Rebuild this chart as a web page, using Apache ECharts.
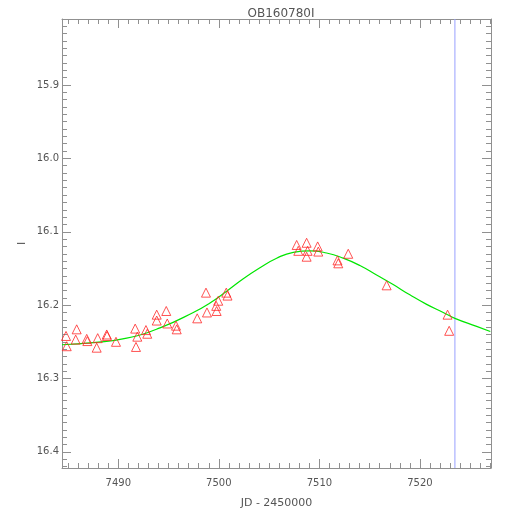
<!DOCTYPE html>
<html>
<head>
<meta charset="utf-8">
<script src="https://cdn.jsdelivr.net/npm/echarts@6/dist/echarts.min.js"></script>
<style>html,body{margin:0;padding:0;background:#fff}#c{width:510px;height:510px}</style>
</head>
<body>
<div id="c"></div>
<script>
const titleText = 'OB160780I';
const xName = 'JD - 2450000';
const yName = 'I';

// observed photometry (JD - 2450000, I mag)
const obsJD  = [7484.80,7484.87,7485.86,7485.76,7486.86,7486.92,7487.85,7487.95,7488.85,7488.88,
                7489.77,7491.68,7491.89,7491.76,7492.75,7492.88,7493.82,7493.82,7494.77,7494.87,
                7495.74,7495.81,7497.85,7498.72,7498.82,7499.74,7499.78,7499.94,7500.74,7500.86,
                7507.74,7507.90,7508.73,7508.83,7508.73,7509.83,7509.89,7511.80,7511.88,7512.87,
                7516.69,7522.75,7522.91];
const obsMag = [16.242,16.256,16.233,16.247,16.246,16.249,16.258,16.245,16.240,16.242,
                16.250,16.232,16.243,16.257,16.234,16.239,16.213,16.221,16.208,16.225,
                16.228,16.233,16.218,16.183,16.210,16.201,16.208,16.194,16.183,16.187,
                16.118,16.126,16.115,16.126,16.134,16.120,16.127,16.139,16.143,16.130,
                16.173,16.213,16.235];

// model curve
const modelJD  = [7484.40,7487.51,7490.84,7494.15,7497.46,7499.12,7500.78,7502.43,7504.09,7505.75,
                  7507.40,7509.06,7510.72,7512.37,7514.03,7515.69,7517.34,7519.00,7520.67,7522.32,
                  7523.48,7525.64,7527.00];
const modelMag = [16.254,16.251,16.245,16.231,16.210,16.197,16.181,16.164,16.149,16.136,
                  16.128,16.126,16.129,16.136,16.146,16.159,16.172,16.186,16.199,16.210,
                  16.218,16.229,16.236];

const cursorJD = 7523.48;

const xMin = 7484.4, xMax = 7527.07;
const yMin = 15.81, yMax = 16.422;
const xMajor = [7490, 7500, 7510, 7520];
const yMajor = [15.9, 16.0, 16.1, 16.2, 16.3, 16.4];

const xMinor = [];
for (let v = 7485; v <= 7527; v++) if (v % 10 !== 0) xMinor.push(v);
const yMinor = [];
for (let i = 1582; i <= 1642; i++) if (i % 10 !== 0) yMinor.push(i / 100);

const axisCol = '#909090';
const textCol = '#555555';
const font = 'DejaVu Sans';

function xAx(pos, ticks, len, showLine, showLabel) {
  return {
    type: 'value', position: pos, min: xMin, max: xMax, gridIndex: 0, offset: 0,
    axisLine: {show: showLine, onZero: false, lineStyle: {color: axisCol, width: 1}},
    axisTick: {show: true, inside: true, length: len, customValues: ticks, lineStyle: {color: axisCol}},
    axisLabel: showLabel ? {show: true, customValues: xMajor, color: textCol, fontFamily: font, fontSize: 10, margin: 10,
                 formatter: v => String(v)} : {show: false},
    splitLine: {show: false},
    name: showLabel ? xName : '', nameLocation: 'middle', nameGap: 30, nameMoveOverlap: false,
    nameTextStyle: {color: textCol, fontFamily: font, fontSize: 11}
  };
}
function yAx(pos, ticks, len, showLine, showLabel) {
  return {
    type: 'value', position: pos, min: yMin, max: yMax, inverse: true, gridIndex: 0, offset: 0,
    axisLine: {show: showLine, onZero: false, lineStyle: {color: axisCol, width: 1}},
    axisTick: {show: true, inside: true, length: len, customValues: ticks, lineStyle: {color: axisCol}},
    axisLabel: showLabel ? {show: true, customValues: yMajor, color: textCol, fontFamily: font, fontSize: 10, margin: 3,
                 formatter: v => v.toFixed(1)} : {show: false},
    splitLine: {show: false},
    name: showLabel ? yName : '', nameLocation: 'middle', nameGap: 34, nameMoveOverlap: false,
    nameTextStyle: {color: textCol, fontFamily: font, fontSize: 11}
  };
}

const chart = echarts.init(document.getElementById('c'), null, {renderer: 'canvas'});
chart.setOption({
  animation: false,
  backgroundColor: '#ffffff',
  title: {text: titleText, left: 276, textAlign: 'center', top: 3,
          textStyle: {color: textCol, fontFamily: font, fontSize: 12, fontWeight: 'normal'}},
  grid: {left: 62, right: 19, top: 19, bottom: 42, containLabel: false, outerBoundsMode: 'none'},
  xAxis: [
    xAx('bottom', xMajor, 9, true, true),
    xAx('bottom', xMinor, 5, false, false),
    xAx('top', xMajor, 9, true, false),
    xAx('top', xMinor, 5, false, false)
  ],
  yAxis: [
    yAx('left', yMajor, 9, true, true),
    yAx('left', yMinor, 5, false, false),
    yAx('right', yMajor, 9, true, false),
    yAx('right', yMinor, 5, false, false)
  ],
  series: [
    {
      type: 'line', xAxisIndex: 0, yAxisIndex: 0, smooth: true, symbol: 'none',
      data: modelJD.map((x, i) => [x, modelMag[i]]),
      lineStyle: {color: '#00e600', width: 1.2}, z: 2
    },
    {
      type: 'scatter', xAxisIndex: 0, yAxisIndex: 0, symbol: 'triangle', symbolSize: [9, 9],
      data: obsJD.map((x, i) => [x, obsMag[i]]),
      itemStyle: {color: 'rgba(0,0,0,0)', borderColor: '#ff2828', borderWidth: 1}, z: 3
    },
    {
      type: 'line', xAxisIndex: 0, yAxisIndex: 0, symbol: 'none', silent: true,
      data: [[cursorJD, yMin], [cursorJD, yMax]],
      lineStyle: {color: '#98a0ff', width: 1}, z: 1
    }
  ]
});
</script>
</body>
</html>
